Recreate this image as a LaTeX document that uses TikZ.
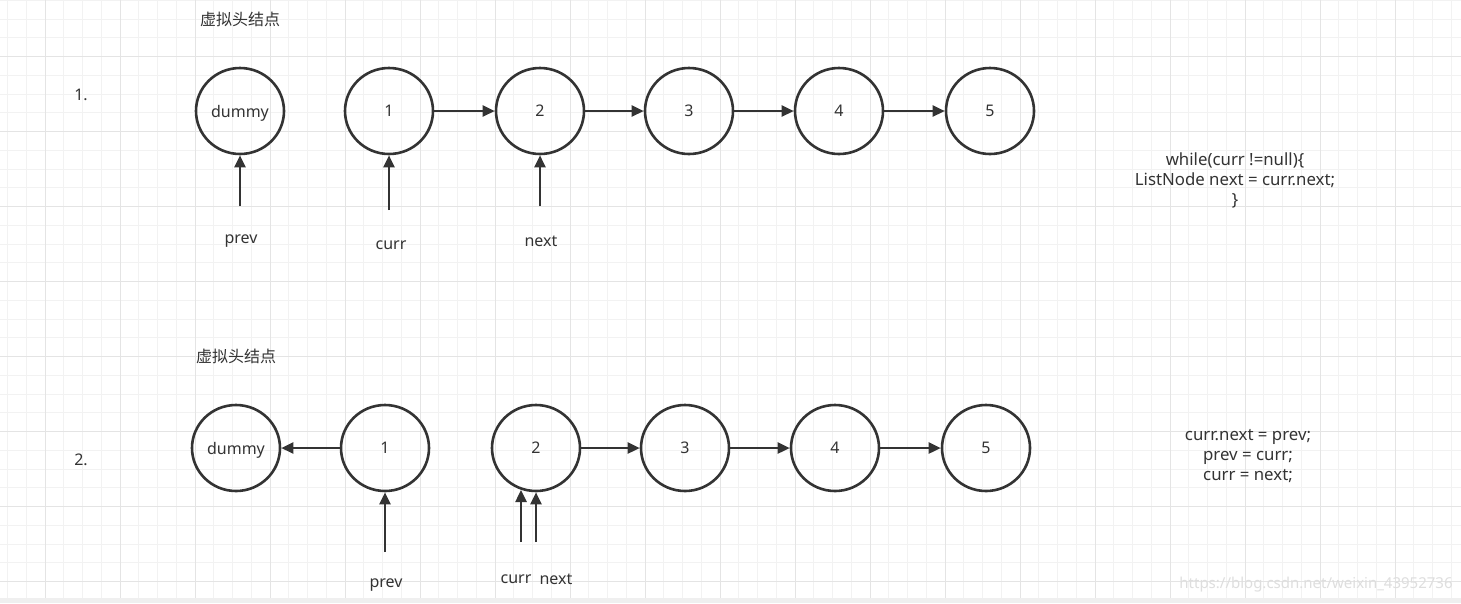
\documentclass[tikz,border=0pt]{standalone}
\usepackage{fontspec}
\setmainfont{Noto Sans}
\newfontfamily\cjk{Noto Sans CJK SC}
\usetikzlibrary{shapes.geometric,arrows.meta}
\definecolor{ink}{HTML}{333333}
\definecolor{gridminor}{HTML}{F2F2F2}
\definecolor{gridmajor}{HTML}{E4E4E4}
\definecolor{band}{HTML}{EFEFEF}
\tikzset{
  nd/.style={ellipse, draw=ink, line width=2.6pt, minimum width=88pt, minimum height=86pt, inner sep=0pt, text=ink, font=\fontsize{16}{18}\selectfont},
  arr/.style={draw=ink, line width=2.5pt, -{Triangle[length=12pt,width=11pt]}},
  lbl/.style={text=ink, font=\fontsize{16}{18}\selectfont, inner sep=0pt},
  code/.style={text=ink, font=\fontsize{16.8}{20}\selectfont, align=center, inner sep=0pt},
  cn/.style={text=ink, font=\cjk\fontsize{16}{18}\selectfont, inner sep=0pt},
}
\begin{document}
\begin{tikzpicture}[x=1pt,y=-1pt]
\useasboundingbox (0,0) rectangle (1461,603);
\fill[white] (0,0) rectangle (1461,603);
% grid
\foreach \i in {-2,...,77} {
  \draw[gridminor, line width=1pt] ({45+18.75*\i},0) -- ({45+18.75*\i},598);
}
\foreach \j in {-3,...,29} {
  \draw[gridminor, line width=1pt] (0,{56.7+18.75*\j}) -- (1461,{56.7+18.75*\j});
}
\foreach \i in {0,...,19} {
  \draw[gridmajor, line width=1pt] ({45+75*\i},0) -- ({45+75*\i},598);
}
\foreach \j in {0,...,7} {
  \draw[gridmajor, line width=1pt] (0,{56.7+75*\j}) -- (1461,{56.7+75*\j});
}
\fill[band] (0,598) rectangle (1461,603);

% ---- row 1 ----
\node[cn] (h1) at (240,19) {虚拟头结点};
\node[lbl] (s1) at (81,95) {1.};
\node[nd, text depth=0pt] (a0) at (240,111) {\raisebox{-1.5pt}{dummy}};
\node[nd] (a1) at (389,111) {\raisebox{-1.5pt}{1}};
\node[nd] (a2) at (540,111) {\raisebox{-1.5pt}{2}};
\node[nd] (a3) at (689,111) {\raisebox{-1.5pt}{3}};
\node[nd] (a4) at (839,111) {\raisebox{-1.5pt}{4}};
\node[nd] (a5) at (990,111) {\raisebox{-1.5pt}{5}};
\draw[arr] (a1) -- (a2);
\draw[arr] (a2) -- (a3);
\draw[arr] (a3) -- (a4);
\draw[arr] (a4) -- (a5);
\coordinate (pa) at (240,206);
\coordinate (ca) at (389,210);
\coordinate (na) at (540,206);
\draw[arr] (pa) -- (a0);
\draw[arr] (ca) -- (a1);
\draw[arr] (na) -- (a2);
\node[lbl] (lpa) at (241,241) {prev};
\node[lbl] (lca) at (391,245) {curr};
\node[lbl] (lna) at (541,241) {next};
\node[code] (codea) at (1235,180) {while(curr !=null)\{\\ListNode next = curr.next;\\\}};

% ---- row 2 ----
\node[cn] (h2) at (236,356) {虚拟头结点};
\node[lbl] (s2) at (81,460) {2.};
\node[nd, text depth=0pt] (b0) at (236,448) {\raisebox{-1.5pt}{dummy}};
\node[nd] (b1) at (385,448) {\raisebox{-1.5pt}{1}};
\node[nd] (b2) at (536,448) {\raisebox{-1.5pt}{2}};
\node[nd] (b3) at (685,448) {\raisebox{-1.5pt}{3}};
\node[nd] (b4) at (835,448) {\raisebox{-1.5pt}{4}};
\node[nd] (b5) at (986,448) {\raisebox{-1.5pt}{5}};
\draw[arr] (b1) -- (b0);
\draw[arr] (b2) -- (b3);
\draw[arr] (b3) -- (b4);
\draw[arr] (b4) -- (b5);
\coordinate (pb) at (385,552);
\coordinate (cb) at (521,542);
\coordinate (nb) at (536,542);
\coordinate (cbt) at (521,490);
\draw[arr] (pb) -- (b1);
\draw[arr] (cb) -- (cbt);
\draw[arr] (nb) -- (b2);
\node[lbl] (lpb) at (386,585) {prev};
\node[lbl] (lcb) at (516,579) {curr};
\node[lbl] (lnb) at (556,579) {next};
\node[code] (codeb) at (1248,456) {curr.next = prev;\\prev = curr;\\curr = next;};

% watermark
\node[text=black!13, font=\fontsize{15}{18}\selectfont, inner sep=0pt] (wm) at (1316,585) {https://blog.csdn.net/weixin\_43952736};
\end{tikzpicture}
\end{document}
